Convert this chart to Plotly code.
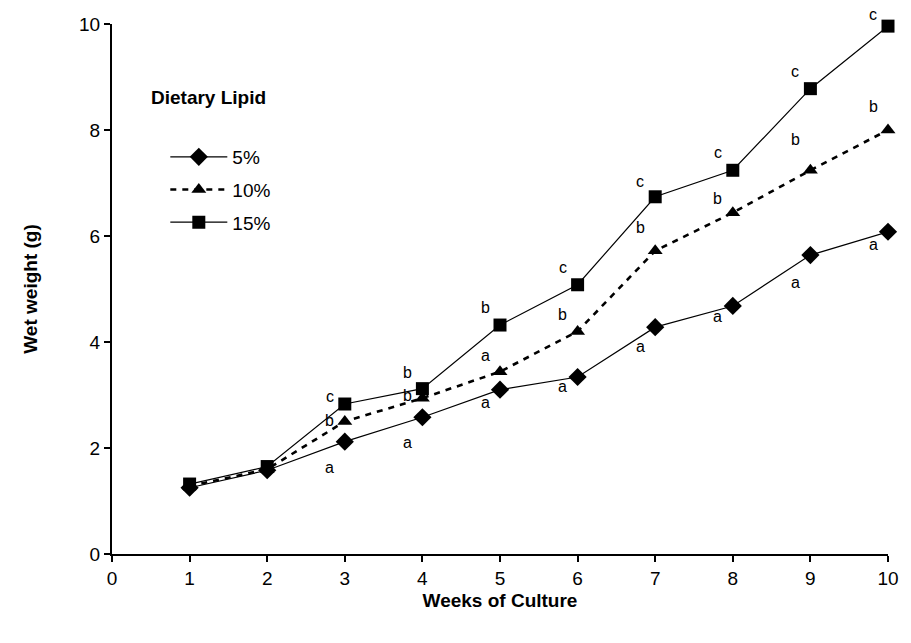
import plotly.graph_objects as go

# Weekly wet weight (g) by dietary lipid level
weeks = [1, 2, 3, 4, 5, 6, 7, 8, 9, 10]
lipid_5 = [1.25, 1.58, 2.12, 2.58, 3.10, 3.34, 4.28, 4.68, 5.64, 6.08]
lipid_10 = [1.28, 1.60, 2.50, 2.94, 3.44, 4.20, 5.72, 6.44, 7.24, 8.00]
lipid_15 = [1.32, 1.65, 2.83, 3.12, 4.32, 5.08, 6.74, 7.24, 8.78, 9.96]

# Significance letters for weeks 3-10 (none for weeks 1-2)
letter_weeks = [3, 4, 5, 6, 7, 8, 9, 10]
letters_5 = ["a", "a", "a", "a", "a", "a", "a", "a"]
letters_10 = ["b", "b", "a", "b", "b", "b", "b", "b"]
letters_15 = ["c", "b", "b", "c", "c", "c", "c", "c"]

series_names = ["5%", "10%", "15%"]
x_ticks = [0, 1, 2, 3, 4, 5, 6, 7, 8, 9, 10]
y_ticks = [0, 2, 4, 6, 8, 10]

FONT = "Liberation Sans, Arial, sans-serif"

fig = go.Figure()

styles = [
    dict(symbol="diamond", size=14, dash="solid", width=1.2),
    dict(symbol="triangle-up", size=13, dash="6px,6px", width=2.6),
    dict(symbol="square", size=13, dash="solid", width=1.2),
]

for i, (name, vals, st) in enumerate(zip(series_names, [lipid_5, lipid_10, lipid_15], styles)):
    fig.add_trace(go.Scatter(
        x=weeks, y=vals, name=name, mode="lines+markers",
        legendgroup=f"g{i}",
        line=dict(color="black", width=st["width"], dash=st["dash"]),
        marker=dict(symbol=st["symbol"], size=st["size"], color="black",
                    line=dict(width=0)),
        cliponaxis=False,
    ))

# Letter placement: shifted left of each point, above or below it (pixels)
shift_x = -15
yshift_15 = [8, 16, 18, 17, 15, 18, 17, 12]
yshift_10 = [1, 3, 16, 17, 23, 14, 31, 24]
yshift_5 = [-26, -25, -13, -10, -19, -11, -27, -13]

lookup = dict(zip(weeks, zip(lipid_5, lipid_10, lipid_15)))
for j, wk in enumerate(letter_weeks):
    v5, v10, v15 = lookup[wk]
    for v, letter, ys in ((v15, letters_15[j], yshift_15[j]),
                          (v10, letters_10[j], yshift_10[j]),
                          (v5, letters_5[j], yshift_5[j])):
        fig.add_annotation(x=wk, y=v, text=letter, showarrow=False,
                           xshift=shift_x, yshift=ys,
                           font=dict(family=FONT, size=16, color="black"))

# Legend heading
fig.add_annotation(xref="paper", yref="paper", x=0.048, y=0.862,
                   xanchor="left", yanchor="middle", showarrow=False,
                   text="<b>Dietary Lipid</b>",
                   font=dict(family=FONT, size=19, color="black"))

axis_common = dict(
    showgrid=False, zeroline=False, showline=True, linecolor="black",
    linewidth=2, ticks="outside", ticklen=6, tickwidth=2, tickcolor="black",
    tickfont=dict(family=FONT, size=19, color="black"),
)

fig.update_xaxes(range=[0, 10], tickvals=x_ticks,
                 title=dict(text="<b>Weeks of Culture</b>", standoff=6,
                            font=dict(family=FONT, size=19, color="black")),
                 **axis_common)
fig.update_yaxes(range=[0, 10], tickvals=y_ticks,
                 title=dict(text="<b>Wet weight (g)</b>", standoff=36,
                            font=dict(family=FONT, size=19, color="black")),
                 **axis_common)

fig.update_layout(
    width=911, height=643,
    margin=dict(l=112, r=13, t=24, b=89),
    plot_bgcolor="white", paper_bgcolor="white",
    font=dict(family=FONT, color="black"),
    legend=dict(
        x=0.0687, y=0.785, xanchor="left", yanchor="top",
        font=dict(family=FONT, size=19, color="black"),
        itemwidth=57,
        tracegroupgap=5, bgcolor="rgba(0,0,0,0)",
    ),
    showlegend=True,
)

fig.write_html("out.html")
